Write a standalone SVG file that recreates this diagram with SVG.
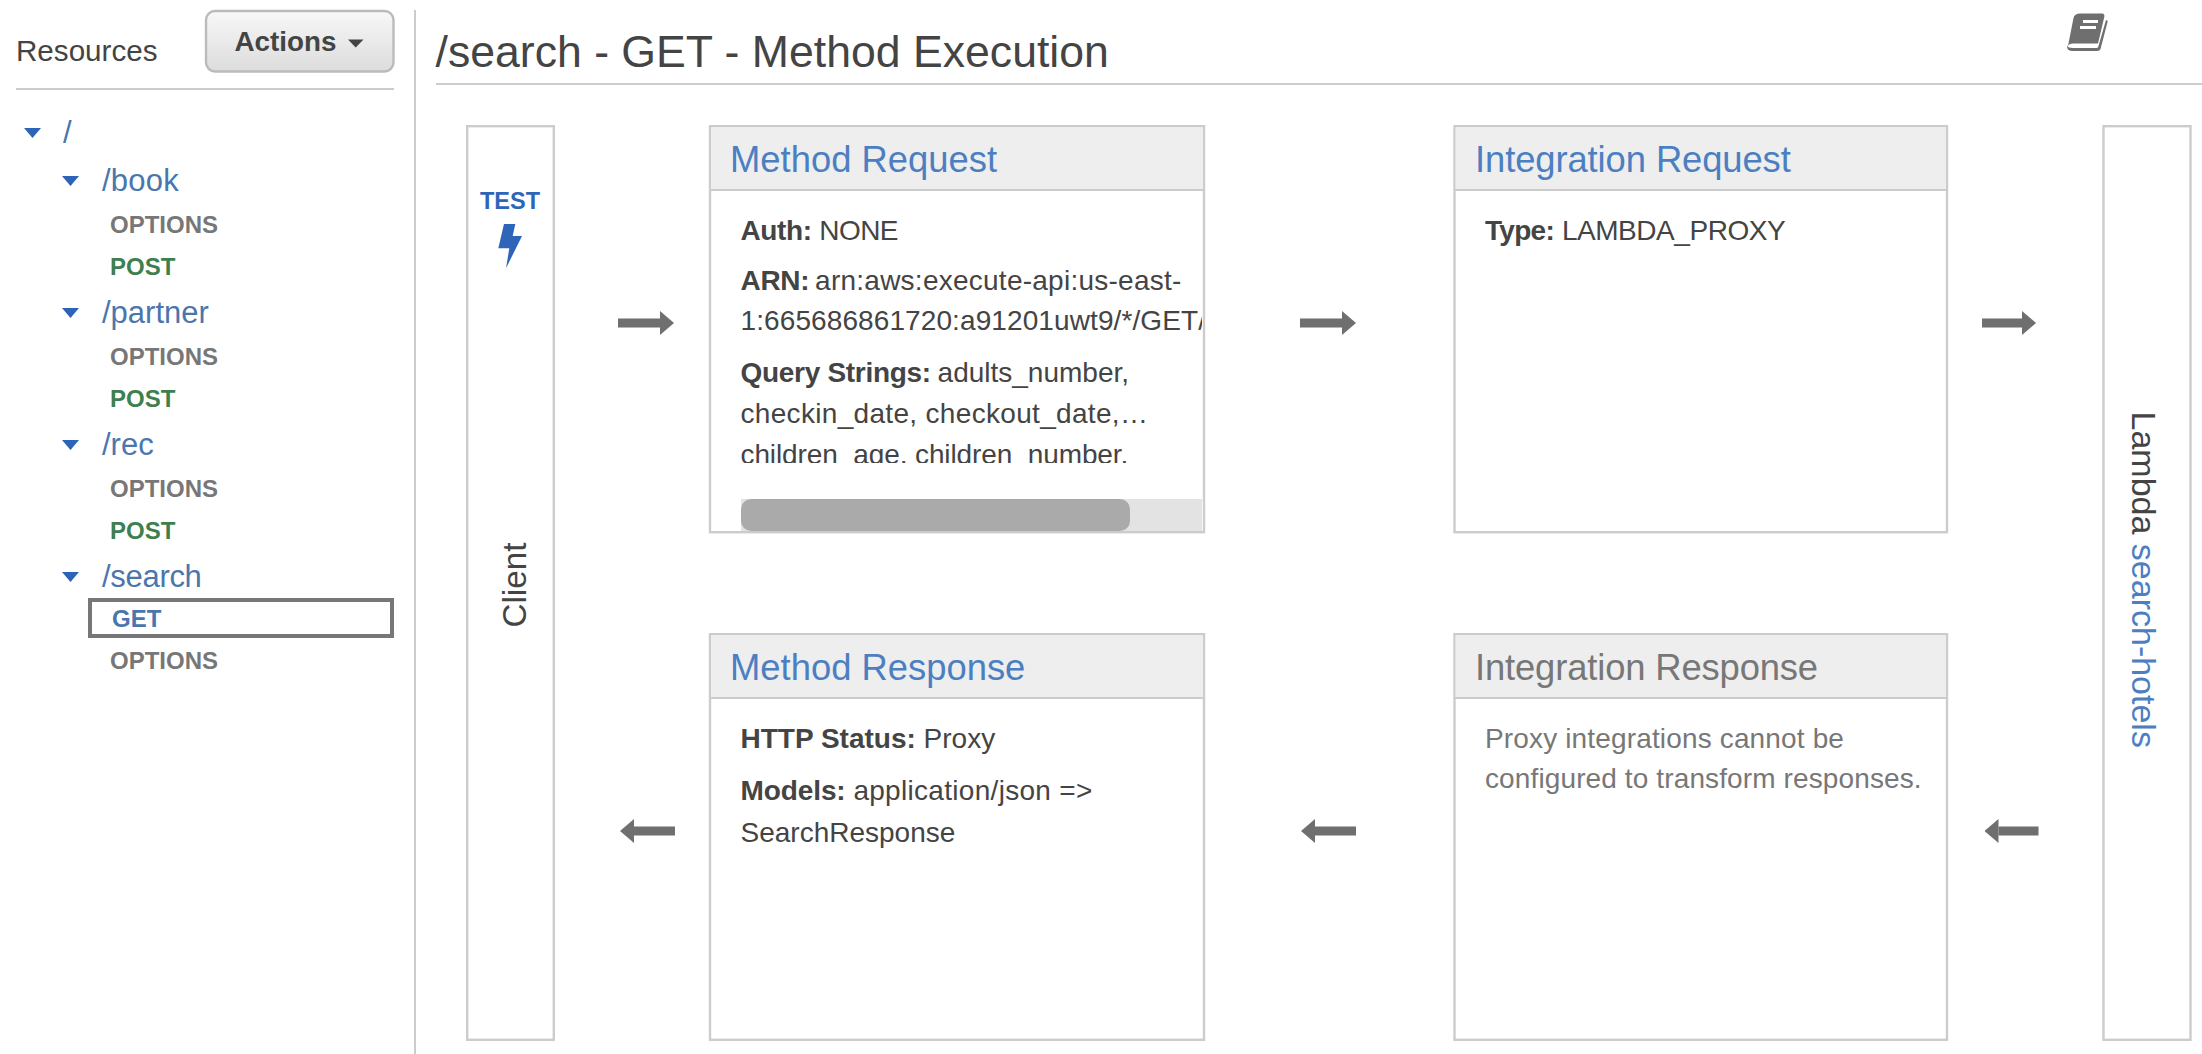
<svg xmlns="http://www.w3.org/2000/svg" width="2202" height="1054" viewBox="0 0 2202 1054">
<style>
text{font-family:"Liberation Sans",Arial,sans-serif;fill:#444}
.rule{stroke:#ccc;stroke-width:2;fill:none}
.box{fill:#fff;stroke:#ccc;stroke-width:2.4}
.hd{fill:#eee}
.ht{font-size:36.4px;fill:#4c7fc2}
.b{font-size:28px}
.s{font-weight:700}
.res{font-size:31px;fill:#4b76ad}
.m{font-size:24px;font-weight:700}
.opt{fill:#777}
.post{fill:#3f7f4f}
.caret{fill:#2d64b8}
.flow{stroke:#6f6f6f;stroke-width:9;fill:none;marker-end:url(#head)}
</style>
<defs>
<marker id="head" markerUnits="userSpaceOnUse" markerWidth="14" markerHeight="24" refX="0" refY="12" orient="auto"><polygon points="0,0 14,12 0,24" fill="#6f6f6f"/></marker>
<linearGradient id="btn" x1="0" y1="0" x2="0" y2="1"><stop offset="0" stop-color="#f8f8f8"/><stop offset="1" stop-color="#dcdcdc"/></linearGradient>
<clipPath id="mr"><rect x="711" y="192" width="491" height="271"/></clipPath>
</defs>
<rect width="2202" height="1054" fill="#fff"/>

<g id="sidebar">
<text x="16" y="61" font-size="29.6">Resources</text>
<rect x="206" y="11" width="187.5" height="60.5" rx="9" fill="url(#btn)" stroke="#bbb" stroke-width="2.4"/>
<text x="234.5" y="51" font-size="27.8" class="s">Actions</text>
<polygon points="348,39.5 363.500,39.5 355.7,47.5" fill="#444"/>
<line class="rule" x1="16" y1="89" x2="394" y2="89"/>
<line class="rule" x1="415" y1="10" x2="415" y2="1054"/>
</g>

<g id="tree">
<polygon class="caret" points="24,128 41,128 32.5,138"/>
<text class="res" x="63" y="142.7">/</text>
<polygon class="caret" points="62,176 79,176 70.5,186"/>
<text class="res" x="102" y="190.7" letter-spacing="0.2">/book</text>
<text class="m opt" x="110" y="232.7">OPTIONS</text>
<text class="m post" x="110" y="274.7">POST</text>
<polygon class="caret" points="62,308 79,308 70.5,318"/>
<text class="res" x="102" y="322.7">/partner</text>
<text class="m opt" x="110" y="364.7">OPTIONS</text>
<text class="m post" x="110" y="406.7">POST</text>
<polygon class="caret" points="62,440 79,440 70.5,450"/>
<text class="res" x="102" y="454.7">/rec</text>
<text class="m opt" x="110" y="496.7">OPTIONS</text>
<text class="m post" x="110" y="538.7">POST</text>
<polygon class="caret" points="62,572 79,572 70.5,582"/>
<text class="res" x="102" y="586.7" letter-spacing="-0.3">/search</text>
<rect x="90" y="600" width="302" height="36" fill="#fff" stroke="#777" stroke-width="4"/>
<text class="m" x="112" y="626.7" style="fill:#4b76ad">GET</text>
<text class="m opt" x="110" y="668.5">OPTIONS</text>
</g>

<g id="title">
<text x="435.5" y="66.7" font-size="44.6">/search - GET - Method Execution</text>
<line class="rule" x1="436" y1="84" x2="2202" y2="84"/>
<g id="book-icon">
<path d="M2080,13.5H2102Q2105,13.5 2104.3,17L2098,43.5H2073Q2069,43.5 2068,46L2073.5,18Q2074.5,13.5 2080,13.5Z" fill="#6f6f6f"/>
<path d="M2106,20L2107.8,21L2100.5,49Q2100,51 2097,51H2073Q2066.5,51 2067,45.5Q2068,48 2073,48H2097Q2098,48 2098.5,46Z" fill="#6f6f6f"/>
<rect x="2083" y="20" width="15" height="3" fill="#fff"/>
<rect x="2080" y="26" width="16" height="3" fill="#fff"/>
</g>
</g>

<g id="client">
<rect class="box" x="467.2" y="126.2" width="86.6" height="913.6"/>
<text x="480" y="209" font-size="23.5" class="s" style="fill:#2e65b8">TEST</text>
<polygon points="498.3,248.3 504,224 515.3,224 512.7,236 522,236 506,268.3 509.3,248.3" fill="#2e65b8"/>
<text transform="translate(526,627.5) rotate(-90)" font-size="33.2">Client</text>
</g>

<g id="method-request">
<rect class="box" x="710" y="126.2" width="494" height="406"/>
<rect class="hd" x="711.2" y="127.4" width="491.6" height="62"/>
<line class="rule" x1="710" y1="190" x2="1204" y2="190"/>
<text class="ht" x="730" y="172">Method Request</text>
<g clip-path="url(#mr)">
<text class="b" x="740.5" y="240"><tspan class="s" letter-spacing="-0.4">Auth:</tspan> <tspan letter-spacing="-0.6">NONE</tspan></text>
<text class="b" x="740.5" y="290"><tspan class="s" letter-spacing="-0.3">ARN:</tspan> <tspan dx="-2" letter-spacing="0.25">arn:aws:execute-api:us-east-</tspan></text>
<text class="b" x="740.5" y="330" letter-spacing="0.1">1:665686861720:a91201uwt9/*/GET/</text>
<text class="b" x="740.5" y="381.7"><tspan class="s" letter-spacing="-0.3">Query Strings:</tspan> <tspan dx="-1">adults_number,</tspan></text>
<text class="b" x="740.5" y="423.3" letter-spacing="0.32">checkin_date, checkout_date,…</text>
<text class="b" x="740.5" y="464" letter-spacing="-0.1">children_age, children_number,</text>
</g>
<rect x="741" y="499" width="461" height="32" fill="#e3e3e3"/>
<rect x="741" y="499" width="389" height="32" rx="10" fill="#aaa"/>
</g>

<g id="integration-request">
<rect class="box" x="1454.5" y="126.2" width="492.5" height="406"/>
<rect class="hd" x="1455.7" y="127.4" width="490.1" height="62"/>
<line class="rule" x1="1454.5" y1="190" x2="1947" y2="190"/>
<text class="ht" x="1475" y="172" letter-spacing="-0.1">Integration Request</text>
<text class="b" x="1485" y="240"><tspan class="s" letter-spacing="-0.7">Type:</tspan> <tspan letter-spacing="-0.45">LAMBDA_PROXY</tspan></text>
</g>

<g id="lambda">
<rect class="box" x="2103.5" y="126.2" width="87" height="913.6"/>
<text transform="translate(2132,411.5) rotate(90)" font-size="34">Lambda <tspan style="fill:#4c7fc2">search-hotels</tspan></text>
</g>

<g id="method-response">
<rect class="box" x="710" y="634.2" width="494" height="405.6"/>
<rect class="hd" x="711.2" y="635.4" width="491.6" height="62"/>
<line class="rule" x1="710" y1="698" x2="1204" y2="698"/>
<text class="ht" x="730" y="680.3">Method Response</text>
<text class="b" x="740.5" y="748.3"><tspan class="s">HTTP Status:</tspan> Proxy</text>
<text class="b" x="740.5" y="800"><tspan class="s" letter-spacing="-0.1">Models:</tspan> <tspan letter-spacing="0.3">application/json =&gt;</tspan></text>
<text class="b" x="740.5" y="841.7">SearchResponse</text>
</g>

<g id="integration-response">
<rect class="box" x="1454.5" y="634.2" width="492.5" height="405.6"/>
<rect class="hd" x="1455.7" y="635.4" width="490.1" height="62"/>
<line class="rule" x1="1454.5" y1="698" x2="1947" y2="698"/>
<text class="ht" x="1475" y="680" letter-spacing="-0.15" style="fill:#777">Integration Response</text>
<text class="b" x="1485" y="748.4" letter-spacing="0.15" style="fill:#777">Proxy integrations cannot be</text>
<text class="b" x="1485" y="788.4" letter-spacing="0.12" style="fill:#777">configured to transform responses.</text>
</g>

<g id="connectors">
<line class="flow" x1="618" y1="323" x2="660" y2="323"/>
<line class="flow" x1="1300" y1="323" x2="1342" y2="323"/>
<line class="flow" x1="1982" y1="323" x2="2022" y2="323"/>
<line class="flow" x1="675" y1="831" x2="634" y2="831"/>
<line class="flow" x1="1356" y1="831" x2="1315" y2="831"/>
<line class="flow" x1="2038.5" y1="831" x2="1998.5" y2="831"/>
</g>
</svg>
